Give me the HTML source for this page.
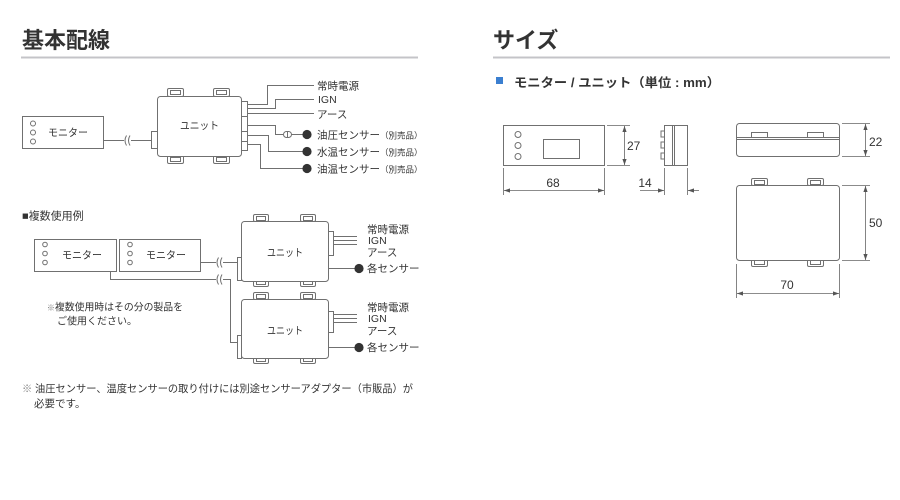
<!DOCTYPE html>
<html><head><meta charset="utf-8">
<style>
html,body{margin:0;padding:0;background:#fff;}
svg{display:block;}
text{font-family:"Liberation Sans","Noto Sans CJK JP",sans-serif;fill:#333;}
</style></head>
<body>
<svg width="900" height="500" viewBox="0 0 900 500" xmlns="http://www.w3.org/2000/svg">
<defs>
<marker id="ae" viewBox="0 0 10 10" refX="10" refY="5" markerWidth="6" markerHeight="6" orient="auto-start-reverse" markerUnits="userSpaceOnUse">
<path d="M0,1.5 L10,5 L0,8.5 z" fill="#555"/>
</marker>
</defs>

<!-- Titles -->
<text x="22" y="48" font-size="22" font-weight="bold" fill="#333">基本配線</text>
<line x1="21" y1="57.5" x2="418" y2="57.5" stroke="#c4c4c8" stroke-width="2"/>
<text x="493" y="48" font-size="22" font-weight="bold" fill="#333">サイズ</text>
<line x1="493" y1="57.5" x2="890" y2="57.5" stroke="#c4c4c8" stroke-width="2"/>

<rect x="496" y="77" width="7" height="7" fill="#3b7fd0"/>
<text x="514" y="87" font-size="12.5" font-weight="bold" textLength="206" lengthAdjust="spacingAndGlyphs">モニター / ユニット（単位 : mm）</text>

<g stroke="#707070" stroke-width="1" fill="#fff">
<!-- ===== Top wiring ===== -->
<rect x="22.5" y="116.5" width="81" height="32"/>
<circle cx="33" cy="123.5" r="2.5"/>
<circle cx="33" cy="132.5" r="2.5"/>
<circle cx="33" cy="141.5" r="2.5"/>
<line x1="103.5" y1="140.5" x2="124" y2="140.5"/>
<line x1="131" y1="140.5" x2="151" y2="140.5"/>
<path d="M126.5,135.5 q-3,5 0,10 M130,135.5 q-3,5 0,10" fill="none"/>
<rect x="151.5" y="131.5" width="6" height="17"/>
<!-- tabs -->
<rect x="167.5" y="88.5" width="16" height="8" rx="1.5"/>
<rect x="170.5" y="90.5" width="10" height="4"/>
<rect x="213.5" y="88.5" width="16" height="8" rx="1.5"/>
<rect x="216.5" y="90.5" width="10" height="4"/>
<rect x="167.5" y="155.5" width="16" height="8" rx="1.5"/>
<rect x="170.5" y="157.5" width="10" height="4"/>
<rect x="213.5" y="155.5" width="16" height="8" rx="1.5"/>
<rect x="216.5" y="157.5" width="10" height="4"/>
<rect x="157.5" y="96.5" width="84" height="60" rx="3"/>
<rect x="241.5" y="101.5" width="6" height="15"/>
<rect x="241.5" y="116.5" width="6" height="15"/>
<rect x="241.5" y="131.5" width="6" height="10"/>
<rect x="241.5" y="141.5" width="6" height="9"/>
<g fill="none">
<path d="M247.5,104.5 H267.5 V85.5 H314"/>
<path d="M247.5,108.5 H275.5 V99.5 H314"/>
<path d="M247.5,113.5 H314"/>
<path d="M247.5,125.5 H275.5 V134.5 H283"/>
<path d="M291,134.5 H305"/>
<path d="M247.5,135.5 H268.5 V151.5 H305"/>
<path d="M247.5,144.5 H260.5 V168.5 H305"/>
</g>
<rect x="283.5" y="131.5" width="8" height="6" rx="3"/>
<line x1="287.5" y1="131.5" x2="287.5" y2="137.5"/>
</g>
<g fill="#333">
<circle cx="307" cy="134.5" r="4.6"/>
<circle cx="307" cy="151.5" r="4.6"/>
<circle cx="307" cy="168.5" r="4.6"/>
</g>
<g font-size="10.5">
<text x="48" y="136" textLength="40" lengthAdjust="spacingAndGlyphs">モニター</text>
<text x="180" y="129" textLength="39" lengthAdjust="spacingAndGlyphs">ユニット</text>
<text x="317" y="89.5">常時電源</text>
<text x="318" y="103">IGN</text>
<text x="317" y="118">アース</text>
<text x="317" y="138.5">油圧センサー<tspan font-size="8.5">（別売品）</tspan></text>
<text x="317" y="155.5">水温センサー<tspan font-size="8.5">（別売品）</tspan></text>
<text x="317" y="172.5">油温センサー<tspan font-size="8.5">（別売品）</tspan></text>
</g>

<!-- ===== Multi use ===== -->
<text x="22" y="219.5" font-size="11">■複数使用例</text>
<g stroke="#707070" stroke-width="1" fill="#fff">
<rect x="34.5" y="239.5" width="82" height="32"/>
<circle cx="45" cy="244.5" r="2.3"/>
<circle cx="45" cy="253.5" r="2.3"/>
<circle cx="45" cy="262.5" r="2.3"/>
<rect x="119.5" y="239.5" width="81" height="32"/>
<circle cx="130" cy="244.5" r="2.3"/>
<circle cx="130" cy="253.5" r="2.3"/>
<circle cx="130" cy="262.5" r="2.3"/>
<g fill="none">
<path d="M200.5,262.5 H216"/>
<path d="M223,262.5 H237"/>
<path d="M110.5,271.5 V279.5 H216"/>
<path d="M223,279.5 H230.5 V342.5 H237"/>
<path d="M218.5,257.5 q-3,5 0,10 M222,257.5 q-3,5 0,10"/>
<path d="M218.5,274.5 q-3,5 0,10 M222,274.5 q-3,5 0,10"/>
</g>
<!-- unit 1 -->
<rect x="253.5" y="214.5" width="15" height="7" rx="1.5"/>
<rect x="256.5" y="216.5" width="9" height="4"/>
<rect x="300.5" y="214.5" width="15" height="7" rx="1.5"/>
<rect x="303.5" y="216.5" width="9" height="4"/>
<rect x="253.5" y="280.5" width="15" height="6" rx="1.5"/>
<rect x="256.5" y="281.5" width="9" height="3"/>
<rect x="300.5" y="280.5" width="15" height="6" rx="1.5"/>
<rect x="303.5" y="281.5" width="9" height="3"/>
<rect x="241.5" y="221.5" width="87" height="60" rx="3"/>
<rect x="237.5" y="257.5" width="4" height="23"/>
<rect x="328.5" y="231.5" width="5" height="24"/>
<g fill="none">
<path d="M333.5,236.5 H357 M333.5,240.5 H357 M333.5,244.5 H357 M328.5,268.5 H357"/>
</g>
<!-- unit 2 -->
<rect x="253.5" y="292.5" width="15" height="7" rx="1.5"/>
<rect x="256.5" y="294.5" width="9" height="4"/>
<rect x="300.5" y="292.5" width="15" height="7" rx="1.5"/>
<rect x="303.5" y="294.5" width="9" height="4"/>
<rect x="253.5" y="357.5" width="15" height="6" rx="1.5"/>
<rect x="256.5" y="358.5" width="9" height="3"/>
<rect x="300.5" y="357.5" width="15" height="6" rx="1.5"/>
<rect x="303.5" y="358.5" width="9" height="3"/>
<rect x="241.5" y="299.5" width="87" height="59" rx="3"/>
<rect x="237.5" y="335.5" width="4" height="23"/>
<rect x="328.5" y="311.5" width="5" height="21"/>
<g fill="none">
<path d="M333.5,314.5 H357 M333.5,318.5 H357 M333.5,322.5 H357 M328.5,347.5 H357"/>
</g>
</g>
<g fill="#333">
<circle cx="359" cy="268.5" r="4.6"/>
<circle cx="359" cy="347.5" r="4.6"/>
</g>
<g font-size="10.5">
<text x="62" y="258.5" textLength="40" lengthAdjust="spacingAndGlyphs">モニター</text>
<text x="146" y="258.5" textLength="40" lengthAdjust="spacingAndGlyphs">モニター</text>
<text x="267" y="256" textLength="36" lengthAdjust="spacingAndGlyphs">ユニット</text>
<text x="267" y="334" textLength="36" lengthAdjust="spacingAndGlyphs">ユニット</text>
<text x="367" y="233">常時電源</text>
<text x="368" y="244">IGN</text>
<text x="367" y="256">アース</text>
<text x="367" y="272">各センサー</text>
<text x="367" y="311">常時電源</text>
<text x="368" y="322">IGN</text>
<text x="367" y="334.5">アース</text>
<text x="367" y="351">各センサー</text>
</g>
<g font-size="10">
<text x="47" y="310.5" textLength="136" lengthAdjust="spacingAndGlyphs"><tspan font-size="8" fill="#777">※</tspan>複数使用時はその分の製品を</text>
<text x="57" y="324.5">ご使用ください。</text>
</g>

<!-- footer -->
<g font-size="10.5" fill="#444">
<text x="22" y="392" textLength="391" lengthAdjust="spacingAndGlyphs"><tspan fill="#888">※</tspan> 油圧センサー、温度センサーの取り付けには別途センサーアダプター（市販品）が</text>
<text x="34" y="407">必要です。</text>
</g>

<!-- ===== Size drawings ===== -->
<g stroke="#707070" stroke-width="1" fill="#fff">
<rect x="503.5" y="125.5" width="101" height="40"/>
<circle cx="518" cy="134.5" r="3"/>
<circle cx="518" cy="145.5" r="3"/>
<circle cx="518" cy="156.5" r="3"/>
<rect x="543.5" y="139.5" width="36" height="19"/>
<!-- side view monitor -->
<path d="M664,131 h-3 v6 h3 M664,142 h-3 v6 h3 M664,153 h-3 v6 h3" fill="none"/>
<rect x="664.5" y="125.5" width="23" height="40"/>
<line x1="672.5" y1="125.5" x2="672.5" y2="165.5"/>
<line x1="674.5" y1="125.5" x2="674.5" y2="165.5"/>
<!-- unit side -->
<rect x="736.5" y="123.5" width="103" height="33" rx="3"/>
<line x1="736.5" y1="137.5" x2="839.5" y2="137.5"/>
<line x1="736.5" y1="139.5" x2="839.5" y2="139.5"/>
<rect x="751.5" y="132.5" width="16" height="5"/>
<rect x="807.5" y="132.5" width="16" height="5"/>
<!-- unit top -->
<rect x="751.5" y="178.5" width="16" height="7" rx="1.5"/>
<rect x="754.5" y="180.5" width="10" height="4"/>
<rect x="807.5" y="178.5" width="16" height="7" rx="1.5"/>
<rect x="810.5" y="180.5" width="10" height="4"/>
<rect x="751.5" y="259.5" width="16" height="7" rx="1.5"/>
<rect x="754.5" y="260.5" width="10" height="4"/>
<rect x="807.5" y="259.5" width="16" height="7" rx="1.5"/>
<rect x="810.5" y="260.5" width="10" height="4"/>
<rect x="736.5" y="185.5" width="103" height="75" rx="3"/>
</g>
<!-- dimension lines -->
<g stroke="#666" stroke-width="0.8" fill="none">
<path d="M607,125.5 H630 M607,165.5 H630"/>
<line x1="624.5" y1="126" x2="624.5" y2="165" marker-start="url(#ae)" marker-end="url(#ae)"/>
<path d="M503.5,168 V195 M604.5,168 V195"/>
<line x1="504" y1="190.5" x2="604" y2="190.5" marker-start="url(#ae)" marker-end="url(#ae)"/>
<path d="M664.5,168 V195 M687.5,168 V195"/>
<line x1="640" y1="190.5" x2="664" y2="190.5" marker-end="url(#ae)"/>
<line x1="699" y1="190.5" x2="688" y2="190.5" marker-end="url(#ae)"/>
<path d="M842,123.5 H870 M842,156.5 H870"/>
<line x1="865.5" y1="124" x2="865.5" y2="156" marker-start="url(#ae)" marker-end="url(#ae)"/>
<path d="M842,185.5 H870 M842,260.5 H870"/>
<line x1="865.5" y1="186" x2="865.5" y2="260" marker-start="url(#ae)" marker-end="url(#ae)"/>
<path d="M736.5,264 V298 M839.5,264 V298"/>
<line x1="737" y1="293.5" x2="839" y2="293.5" marker-start="url(#ae)" marker-end="url(#ae)"/>
</g>
<g font-size="12" fill="#444">
<text x="627" y="150">27</text>
<text x="553" y="187" text-anchor="middle">68</text>
<text x="645" y="187" text-anchor="middle">14</text>
<text x="869" y="146">22</text>
<text x="869" y="227">50</text>
<text x="787" y="289" text-anchor="middle">70</text>
</g>
</svg>
</body></html>
